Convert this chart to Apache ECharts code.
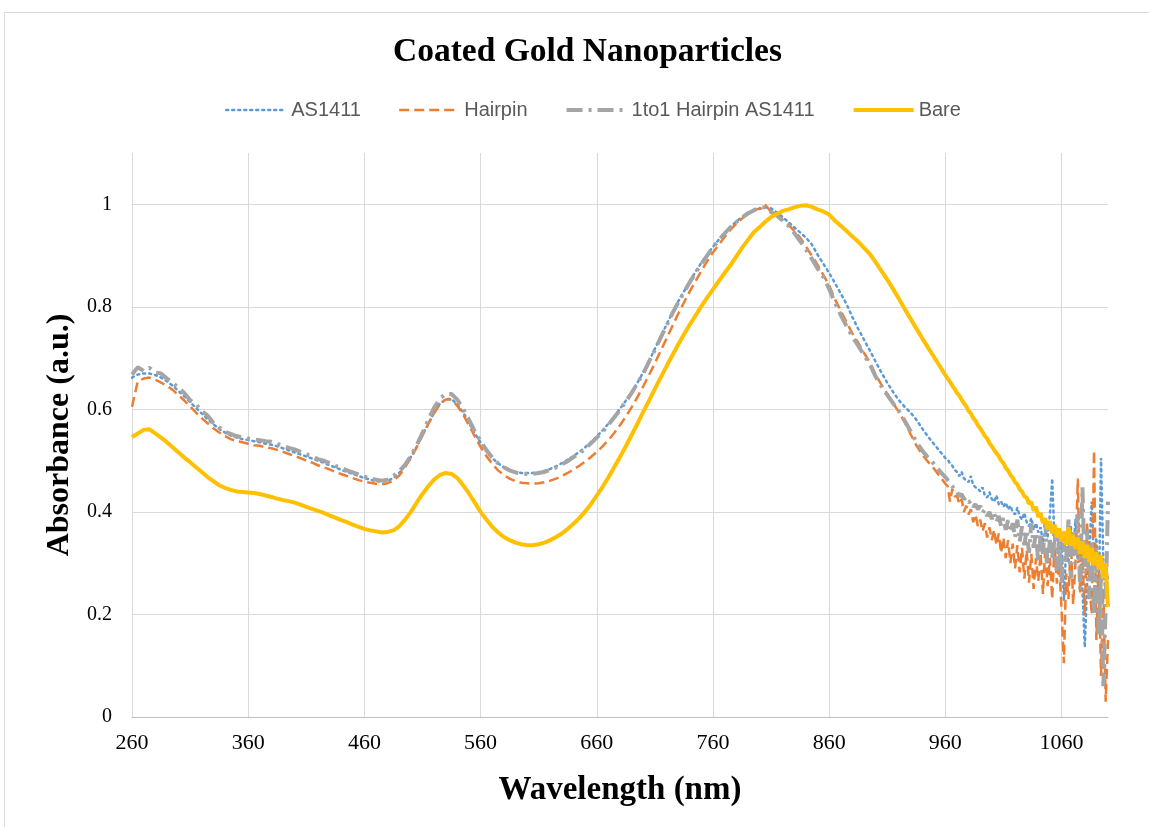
<!DOCTYPE html>
<html>
<head>
<meta charset="utf-8">
<script src="https://cdn.jsdelivr.net/npm/echarts@6/dist/echarts.min.js"></script>
<style>
html,body{margin:0;padding:0;background:#fff;}
#chart{width:1149px;height:827px;}
</style>
</head>
<body>
<div id="chart"></div>
<script>
const titleText = 'Coated Gold Nanoparticles';
const seriesNames = ['AS1411', 'Hairpin', '1to1 Hairpin AS1411', 'Bare'];
const xTitle = 'Wavelength (nm)';
const yTitle = 'Absorbance (a.u.)';

const wl = [
260,265,270,275,280,285,290,295,300,305,310,315,320,325,330,335,340,345,350,355,
360,365,370,375,380,385,390,395,400,405,410,415,420,425,430,435,440,445,450,455,
460,465,470,475,480,485,490,495,500,505,510,515,520,525,530,535,540,545,550,555,
560,565,570,575,580,585,590,595,600,605,610,615,620,625,630,635,640,645,650,655,
660,665,670,675,680,685,690,695,700,705,710,715,720,725,730,735,740,745,750,755,
760,765,770,775,780,785,790,795,800,805,810,815,820,825,830,835,840,845,850,855,
860,865,870,875,880,885,890,895,900,905,910,915,920,925,930,935,940,945,950,955,
960,
962,964,966,968,970,972,974,976,978,980,982,984,986,988,990,992,994,996,998,1000,
1002,1004,1006,1008,1010,1012,1014,1016,1018,1020,1022,1024,1026,1028,1030,1032,1034,1036,1038,1040,
1042,1044,1046,1048,1050,1052,1054,1056,1058,1060,1062,1064,1066,1068,1070,1072,1074,1076,1078,1080,
1082,1084,1086,1088,1090,1092,1094,1096,1098,1100
];

const as1411 = [
0.662,0.668,0.670,0.670,0.667,0.662,0.655,0.646,0.636,0.625,0.614,0.603,0.592,0.581,0.571,0.562,0.555,0.549,0.545,0.542,
0.540,0.538,0.536,0.533,0.531,0.528,0.524,0.520,0.516,0.512,0.508,0.504,0.500,0.496,0.491,0.487,0.482,0.478,0.474,0.470,
0.466,0.463,0.460,0.459,0.461,0.466,0.476,0.490,0.507,0.527,0.550,0.572,0.594,0.611,0.620,0.620,0.610,0.594,0.574,0.553,
0.535,0.518,0.505,0.495,0.487,0.482,0.478,0.476,0.476,0.476,0.477,0.480,0.484,0.489,0.495,0.502,0.509,0.517,0.526,0.536,
0.547,0.559,0.572,0.586,0.601,0.617,0.634,0.652,0.672,0.694,0.718,0.742,0.765,0.788,0.810,0.830,0.850,0.868,0.886,0.902,
0.917,0.931,0.944,0.956,0.966,0.975,0.983,0.989,0.991,0.994,0.992,0.984,0.975,0.965,0.955,0.945,0.935,0.922,0.902,0.884,
0.866,0.846,0.826,0.805,0.780,0.757,0.736,0.715,0.693,0.672,0.652,0.634,0.618,0.605,0.594,0.580,0.563,0.547,0.533,0.519,
0.505,
0.502,0.495,0.490,0.482,0.478,0.470,0.478,0.465,0.462,0.458,0.470,0.452,0.448,0.445,0.440,0.448,0.432,0.428,0.438,0.425,
0.420,0.432,0.415,0.420,0.410,0.418,0.405,0.412,0.400,0.395,0.408,0.392,0.385,0.398,0.380,0.372,0.388,0.365,0.378,0.360,
0.370,0.340,0.362,0.350,0.395,0.465,0.340,0.360,0.310,0.345,0.228,0.330,0.300,0.372,0.320,0.385,0.300,0.350,0.250,0.136,
0.260,0.330,0.420,0.300,0.350,0.220,0.505,0.300,0.230,0.280
];

const hairpin = [
0.605,0.655,0.660,0.662,0.658,0.652,0.646,0.638,0.628,0.617,0.606,0.594,0.583,0.573,0.563,0.555,0.548,0.542,0.538,0.536,
0.533,0.530,0.529,0.526,0.524,0.521,0.517,0.513,0.509,0.505,0.500,0.496,0.491,0.487,0.483,0.478,0.474,0.470,0.466,0.462,
0.459,0.457,0.455,0.454,0.456,0.461,0.471,0.487,0.505,0.526,0.549,0.571,0.593,0.610,0.619,0.619,0.607,0.590,0.569,0.547,
0.527,0.509,0.494,0.481,0.472,0.465,0.460,0.457,0.456,0.455,0.456,0.458,0.461,0.465,0.470,0.476,0.483,0.490,0.498,0.507,
0.517,0.528,0.540,0.554,0.569,0.586,0.604,0.624,0.645,0.667,0.690,0.714,0.738,0.762,0.786,0.808,0.830,0.850,0.870,0.889,
0.906,0.921,0.936,0.950,0.962,0.972,0.982,0.988,0.992,0.999,0.985,0.982,0.970,0.960,0.948,0.935,0.918,0.900,0.882,0.862,
0.842,0.815,0.792,0.770,0.748,0.730,0.710,0.692,0.668,0.648,0.630,0.612,0.595,0.575,0.552,0.530,0.512,0.498,0.485,0.470,
0.455,
0.450,0.420,0.445,0.430,0.432,0.415,0.425,0.400,0.412,0.395,0.405,0.380,0.395,0.372,0.385,0.362,0.378,0.350,0.370,0.345,
0.365,0.335,0.358,0.320,0.350,0.310,0.345,0.300,0.338,0.290,0.335,0.282,0.330,0.270,0.325,0.262,0.318,0.250,0.310,0.265,
0.320,0.240,0.330,0.255,0.310,0.230,0.340,0.260,0.300,0.210,0.105,0.280,0.230,0.350,0.220,0.300,0.465,0.240,0.320,0.200,
0.380,0.260,0.200,0.520,0.150,0.300,0.080,0.250,0.030,0.150
];

const oneToOne = [
0.668,0.682,0.675,0.681,0.672,0.670,0.660,0.652,0.642,0.632,0.618,0.610,0.597,0.588,0.574,0.565,0.556,0.552,0.548,0.545,
0.543,0.541,0.540,0.538,0.537,0.533,0.529,0.525,0.522,0.517,0.512,0.509,0.503,0.500,0.495,0.490,0.486,0.481,0.477,0.473,
0.469,0.465,0.463,0.461,0.463,0.470,0.479,0.492,0.509,0.530,0.554,0.580,0.603,0.621,0.630,0.630,0.619,0.601,0.580,0.557,
0.538,0.521,0.506,0.495,0.487,0.481,0.477,0.475,0.474,0.474,0.476,0.478,0.482,0.487,0.493,0.499,0.507,0.514,0.523,0.534,
0.545,0.556,0.570,0.584,0.599,0.615,0.632,0.651,0.670,0.693,0.716,0.740,0.763,0.787,0.808,0.828,0.848,0.866,0.884,0.900,
0.916,0.930,0.943,0.955,0.965,0.974,0.982,0.988,0.993,0.994,0.985,0.978,0.968,0.958,0.944,0.928,0.912,0.894,0.875,0.858,
0.835,0.808,0.784,0.762,0.742,0.724,0.706,0.688,0.664,0.645,0.628,0.612,0.597,0.578,0.558,0.537,0.520,0.506,0.494,0.480,
0.468,
0.462,0.455,0.450,0.442,0.440,0.430,0.435,0.425,0.428,0.418,0.422,0.410,0.415,0.405,0.412,0.398,0.405,0.392,0.400,0.386,
0.398,0.380,0.392,0.372,0.388,0.365,0.384,0.360,0.378,0.350,0.385,0.342,0.372,0.335,0.365,0.320,0.378,0.330,0.360,0.300,
0.355,0.318,0.380,0.295,0.345,0.310,0.372,0.285,0.350,0.262,0.340,0.300,0.385,0.270,0.360,0.300,0.395,0.250,0.448,0.280,
0.365,0.230,0.340,0.200,0.330,0.160,0.280,0.060,0.220,0.420
];

const bare = [
0.546,0.553,0.560,0.561,0.553,0.545,0.536,0.526,0.516,0.506,0.497,0.487,0.478,0.468,0.460,0.452,0.447,0.443,0.440,0.439,
0.438,0.437,0.435,0.432,0.429,0.426,0.423,0.421,0.418,0.414,0.410,0.406,0.402,0.398,0.393,0.389,0.384,0.380,0.375,0.371,
0.367,0.364,0.362,0.360,0.361,0.364,0.372,0.385,0.400,0.418,0.435,0.450,0.463,0.472,0.476,0.474,0.466,0.452,0.436,0.418,
0.400,0.385,0.371,0.360,0.351,0.345,0.340,0.337,0.335,0.335,0.337,0.340,0.345,0.351,0.358,0.367,0.377,0.388,0.401,0.415,
0.432,0.449,0.467,0.487,0.507,0.528,0.550,0.572,0.595,0.617,0.640,0.662,0.684,0.705,0.726,0.746,0.765,0.783,0.801,0.818,
0.834,0.850,0.866,0.881,0.898,0.915,0.930,0.945,0.955,0.966,0.975,0.981,0.987,0.990,0.994,0.997,0.998,0.995,0.990,0.986,
0.980,0.968,0.958,0.948,0.937,0.927,0.915,0.903,0.887,0.870,0.853,0.835,0.816,0.796,0.777,0.758,0.739,0.721,0.703,0.685,
0.667,
0.660,0.654,0.646,0.640,0.632,0.627,0.619,0.612,0.606,0.597,0.592,0.583,0.578,0.569,0.563,0.556,0.548,0.543,0.534,0.528,
0.521,0.514,0.509,0.500,0.495,0.486,0.481,0.472,0.467,0.458,0.454,0.444,0.440,0.430,0.428,0.416,0.420,0.402,0.410,0.390,
0.398,0.378,0.388,0.366,0.382,0.358,0.375,0.350,0.368,0.342,0.362,0.336,0.370,0.334,0.356,0.328,0.350,0.318,0.342,0.310,
0.336,0.302,0.330,0.296,0.322,0.288,0.316,0.270,0.300,0.215
];

const xMin = 260, xMax = 1100, xStep = 100;
const yMin = 0, yMax = 1.1, yStep = 0.2;

const colors = ['#5B9BD5', '#ED7D31', '#A5A5A5', '#FFC000'];
const widths = [2.5, 2.5, 4, 4];
const dashes = [[2,4], [10,5], [16,6,3,6], 'solid'];

function pairs(arr){ return wl.map((x,i)=>[x, arr[i]]); }
const values = [as1411, hairpin, oneToOne, bare];

const chart = echarts.init(document.getElementById('chart'), null, {renderer:'canvas'});
const grid = '#d9d9d9';
chart.setOption({
  animation:false,
  backgroundColor:'#ffffff',
  graphic:[{type:'rect', shape:{x:4.5,y:12.5,width:1200,height:900}, style:{fill:'none', stroke:'#d9d9d9', lineWidth:1}, silent:true}],
  title:{
    text:titleText, left:388, top:30,
    textStyle:{fontFamily:'Liberation Serif', fontWeight:'bold', fontSize:33.5, color:'#000'}
  },
  legend:{
    top:95, left:220, itemWidth:60, itemHeight:14, itemGap:37,
    textStyle:{fontFamily:'Liberation Sans', fontSize:20, color:'#595959'},
    itemStyle:{opacity:0},
    data:seriesNames.map((n,i)=>({name:n, itemStyle:{opacity:0},
      lineStyle:{color:colors[i], width:widths[i], type:dashes[i]}}))
  },
  grid:{left:132, right:41, top:153, bottom:110, containLabel:false},
  xAxis:{
    type:'value', min:xMin, max:xMax, interval:xStep,
    name:xTitle, nameLocation:'middle', nameGap:57,
    nameTextStyle:{fontFamily:'Liberation Serif', fontWeight:'bold', fontSize:33, color:'#000'},
    axisLine:{show:true, onZero:false, lineStyle:{color:'#bfbfbf', width:1}},
    axisTick:{show:false},
    axisLabel:{margin:15, fontFamily:'Liberation Serif', fontSize:22, color:'#000',
      formatter:v=> (v===xMax ? '' : String(v))},
    splitLine:{show:true, lineStyle:{color:[grid,grid,grid,grid,grid,grid,grid,grid,grid,'rgba(0,0,0,0)'], width:1}}
  },
  yAxis:{
    type:'value', min:yMin, max:yMax, interval:yStep,
    name:yTitle, nameLocation:'middle', nameGap:55, nameRotate:90,
    nameTextStyle:{fontFamily:'Liberation Serif', fontWeight:'bold', fontSize:32, color:'#000'},
    axisLine:{show:false}, axisTick:{show:false},
    axisLabel:{margin:20, fontFamily:'Liberation Serif', fontSize:20, color:'#000',
      formatter:v=> (Math.abs(v-yMax)<1e-9 ? '' : String(Math.round(v*10)/10))},
    splitLine:{show:true, lineStyle:{color:[grid,grid,grid,grid,grid,grid,'rgba(0,0,0,0)'], width:1}}
  },
  series:seriesNames.map((n,i)=>({
    name:n, type:'line', symbol:'none', data:pairs(values[i]),
    lineStyle:{color:colors[i], width:widths[i], type:dashes[i], cap:(i===0?'round':'butt')},
    itemStyle:{color:colors[i]}
  }))
});
</script>
</body>
</html>
